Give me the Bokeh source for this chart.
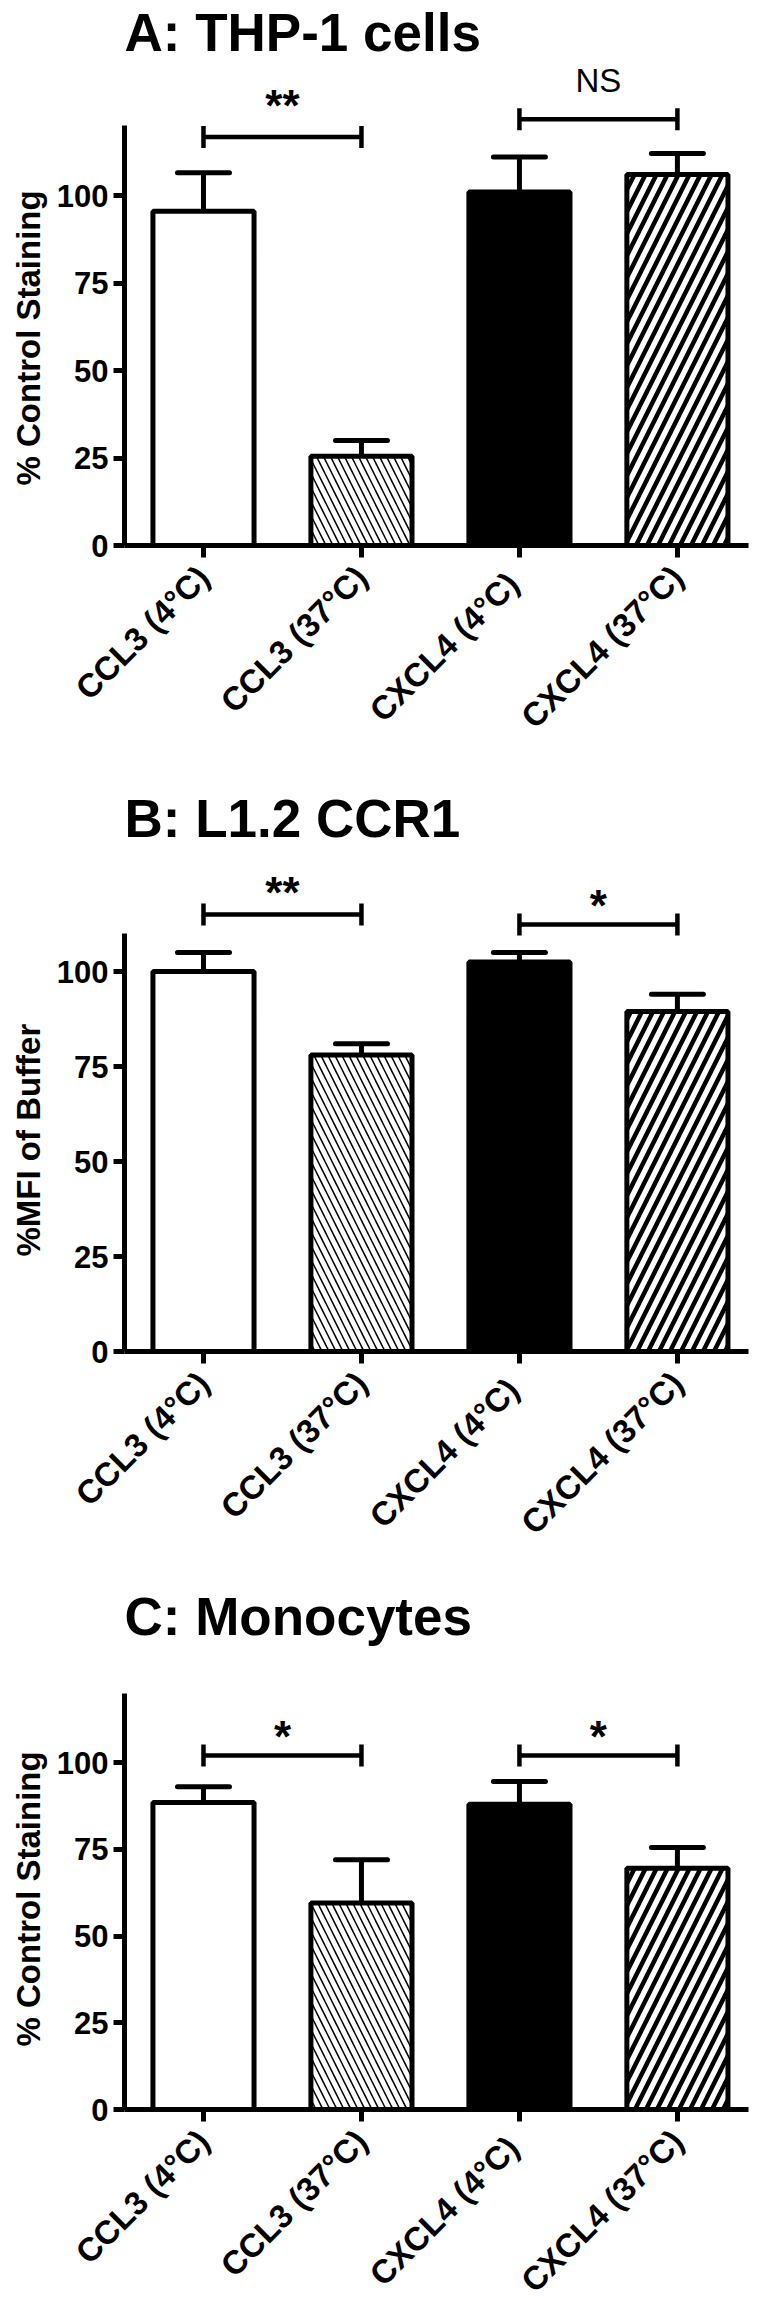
import math
from bokeh.plotting import figure
from bokeh.models import FixedTicker, Whisker, TeeHead, ColumnDataSource, Range1d, Title
from bokeh.layouts import column
from bokeh.embed import file_html
from bokeh.resources import INLINE
from bokeh.core.properties import value

# ---------------- data ----------------
categories = ["CCL3 (4°C)", "CCL3 (37°C)", "CXCL4  (4°C)", "CXCL4 (37°C)"]
titles = ["A: THP-1 cells", "B: L1.2 CCR1", "C: Monocytes"]
y_labels = ["% Control Staining", "%MFI of Buffer", "% Control Staining"]
y_ticks = [0, 25, 50, 75, 100]

thp1_mean = [95.5, 25.5, 101.0, 106.0]
thp1_err = [11.0, 4.5, 10.0, 6.0]
l12_mean = [100.0, 78.0, 102.5, 89.5]
l12_err = [5.0, 3.0, 2.5, 4.5]
mono_mean = [88.5, 59.5, 88.0, 69.5]
mono_err = [4.5, 12.5, 6.5, 6.0]

# significance: (left bar, right bar, label)
thp1_sig = [(0, 1, "**"), (2, 3, "NS")]
l12_sig = [(0, 1, "**"), (2, 3, "*")]
mono_sig = [(0, 1, "*"), (2, 3, "*")]

# ---------------- layout / styling ----------------
FONT = "Liberation Sans"
bar_fill = ["white", "white", "black", "white"]
bar_hatch = [" ", "\\", " ", "/"]
bar_hatch_scale = [8, 14, 8, 22]
bar_hatch_weight = [1, 1.5, 1, 4.5]

panels = [
    dict(mean=thp1_mean, err=thp1_err, sig=thp1_sig, axis_top=120, ppu=3.5,
         frame_h=484, border_bottom=241, ylab_offset=60,
         bracket_y=[116.7, 121.8], text_y=[125.7, 132.9]),
    dict(mean=l12_mean, err=l12_err, sig=l12_sig, axis_top=110, ppu=3.8,
         frame_h=504, border_bottom=233, ylab_offset=95,
         bracket_y=[115.0, 112.4], text_y=[120.8, 117.4]),
    dict(mean=mono_mean, err=mono_err, sig=mono_sig, axis_top=120, ppu=3.47,
         frame_h=464, border_bottom=178, ylab_offset=63,
         bracket_y=[102.0, 102.0], text_y=[107.6, 107.6]),
]

figs = []
for k, cfg in enumerate(panels):
    xs = list(range(len(categories)))
    y_end = cfg["frame_h"] / cfg["ppu"]
    p = figure(x_range=Range1d(-0.5, 3.45), y_range=Range1d(0, y_end),
               frame_width=624, frame_height=cfg["frame_h"],
               min_border_left=120, min_border_right=4,
               min_border_top=60, min_border_bottom=cfg["border_bottom"],
               output_backend="svg", toolbar_location=None,
               title=titles[k])
    p.title.text_font = FONT
    p.title.text_font_style = "bold"
    p.title.text_font_size = "53px"
    p.title.text_color = "black"
    p.title.align = "left"
    p.title.standoff = 0
    p.outline_line_color = None
    p.xgrid.grid_line_color = None
    p.ygrid.grid_line_color = None
    p.background_fill_color = "white"
    p.border_fill_color = "white"

    src = ColumnDataSource(dict(
        x=xs, top=cfg["mean"],
        upper=[m + e for m, e in zip(cfg["mean"], cfg["err"])],
        fill=bar_fill, hatch=bar_hatch, hs=bar_hatch_scale, hw=bar_hatch_weight))

    err = Whisker(base="x", lower="top", upper="upper", source=src,
                  dimension="height", line_width=5, line_color="black",
                  upper_head=TeeHead(size=52, line_width=5, line_color="black",
                                     line_cap="round"),
                  lower_head=None)
    p.add_layout(err)

    p.vbar(x="x", top="top", bottom=0, width=0.64, source=src,
           fill_color="fill", line_color="black", line_width=5,
           hatch_pattern="hatch", hatch_color="black",
           hatch_scale="hs", hatch_weight="hw")

    # significance brackets
    d = 11 / cfg["ppu"]
    for (i, j, lab), by, ty in zip(cfg["sig"], cfg["bracket_y"], cfg["text_y"]):
        p.segment(x0=[xs[i]], y0=[by], x1=[xs[j]], y1=[by],
                  line_color="black", line_width=4.5)
        p.segment(x0=[xs[i], xs[j]], y0=[by - d, by - d],
                  x1=[xs[i], xs[j]], y1=[by + d, by + d],
                  line_color="black", line_width=4.5)
        is_star = "*" in lab
        p.text(x=[(xs[i] + xs[j]) / 2], y=[ty], text=[lab],
               text_align="center", text_baseline="alphabetic",
               text_font=value(FONT),
               text_font_style="bold" if is_star else "normal",
               text_font_size="44px" if is_star else "33px",
               text_color="black")

    # y axis
    ya = p.yaxis[0]
    ya.ticker = FixedTicker(ticks=y_ticks)
    ya.bounds = (0, cfg["axis_top"])
    ya.axis_line_width = 5
    ya.axis_line_color = "black"
    ya.major_tick_line_width = 5
    ya.major_tick_out = 11
    ya.major_tick_in = 0
    ya.minor_tick_line_color = None
    ya.major_label_text_font = FONT
    ya.major_label_text_font_style = "bold"
    ya.major_label_text_font_size = "31px"
    ya.major_label_text_color = "black"
    ya.major_label_standoff = 5

    # y-axis title (vertical), starting a little above the x axis
    ytitle = Title(text=y_labels[k], align="left", offset=cfg["ylab_offset"],
                   text_font=FONT, text_font_style="bold",
                   text_font_size="33px", text_color="black", standoff=14)
    p.add_layout(ytitle, "left")

    # x axis
    xa = p.xaxis[0]
    xa.ticker = FixedTicker(ticks=xs)
    xa.major_label_overrides = {i: c for i, c in zip(xs, categories)}
    xa.major_label_orientation = math.pi / 4
    xa.axis_line_width = 5
    xa.axis_line_color = "black"
    xa.major_tick_line_width = 5
    xa.major_tick_out = 12
    xa.major_tick_in = 0
    xa.minor_tick_line_color = None
    xa.major_label_text_font = FONT
    xa.major_label_text_font_style = "bold"
    xa.major_label_text_font_size = "33px"
    xa.major_label_text_color = "black"
    xa.major_label_standoff = 14

    figs.append(p)

layout = column(*figs, spacing=0)
open("out.html", "w").write(file_html(layout, INLINE))
